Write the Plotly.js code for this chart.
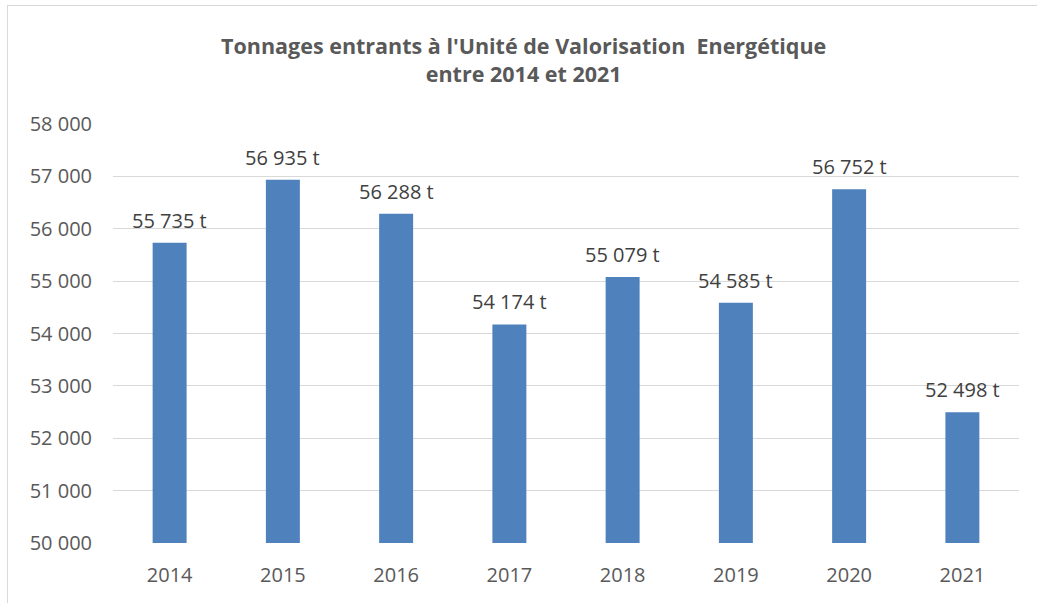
<!DOCTYPE html>
<html>
<head>
<meta charset="utf-8">
<script src="https://cdn.plot.ly/plotly-3.0.1.min.js"></script>
<style>
html,body{margin:0;padding:0;background:#fff;}
#frame{position:absolute;left:7px;top:5px;width:1040px;height:610px;border-left:1px solid #d9d9d9;border-top:1px solid #d9d9d9;}
#chart{position:absolute;left:0;top:0;width:1037px;height:603px;}
</style>
</head>
<body>
<div id="frame"></div>
<div id="chart"></div>
<script>
var years = ['2014','2015','2016','2017','2018','2019','2020','2021'];
var tonnages = [55735, 56935, 56288, 54174, 55079, 54585, 56752, 52498];
var yTicks = [50000, 51000, 52000, 53000, 54000, 55000, 56000, 57000, 58000];

function fmt(v){ return String(v).replace(/\B(?=(\d{3})+(?!\d))/g, ' '); }
var labels = tonnages.map(function(v){ return fmt(v) + ' t'; });
var yTickText = yTicks.map(fmt);

var FONT = "'Open Sans', sans-serif";

var trace = {
  type: 'bar',
  x: years,
  y: tonnages,
  marker: {color: '#4F81BD'},
  hoverinfo: 'none'
};

// category axis: annotation x given as category index
var annotations = years.map(function(y, i){
  return {
    x: i, y: tonnages[i], xref: 'x', yref: 'y',
    text: labels[i], showarrow: false,
    yanchor: 'bottom', yshift: 7,
    font: {family: FONT, size: 20, color: '#404040'}
  };
});

var layout = {
  width: 1037, height: 603,
  paper_bgcolor: 'rgba(0,0,0,0)',
  plot_bgcolor: 'rgba(0,0,0,0)',
  margin: {l: 113, r: 18, t: 124, b: 60},
  title: {
    text: "<b>Tonnages entrants à l'Unité de Valorisation  Energétique<br>entre 2014 et 2021</b>",
    x: 0.505, xanchor: 'center', y: 1 - 54/603, yanchor: 'top',
    font: {family: FONT, size: 21.5, color: '#595959'}
  },
  bargap: 0.7,
  showlegend: false,
  xaxis: {
    type: 'category',
    categoryorder: 'array', categoryarray: years,
    range: [-0.5, years.length - 0.5],
    showgrid: false, zeroline: false, showline: false,
    ticks: '', ticklen: 0, ticklabelstandoff: 18,
    tickfont: {family: FONT, size: 20, color: '#595959'}
  },
  yaxis: {
    range: [50000, 58000],
    tickvals: yTicks,
    ticktext: yTickText,
    showgrid: true, gridcolor: '#d9d9d9', gridwidth: 1,
    zeroline: false, showline: false,
    ticks: '', ticklen: 0, ticklabelstandoff: 20,
    tickfont: {family: FONT, size: 20, color: '#595959'}
  },
  annotations: annotations
};

Plotly.newPlot('chart', [trace], layout, {displayModeBar: false, staticPlot: true});
</script>
</body>
</html>
